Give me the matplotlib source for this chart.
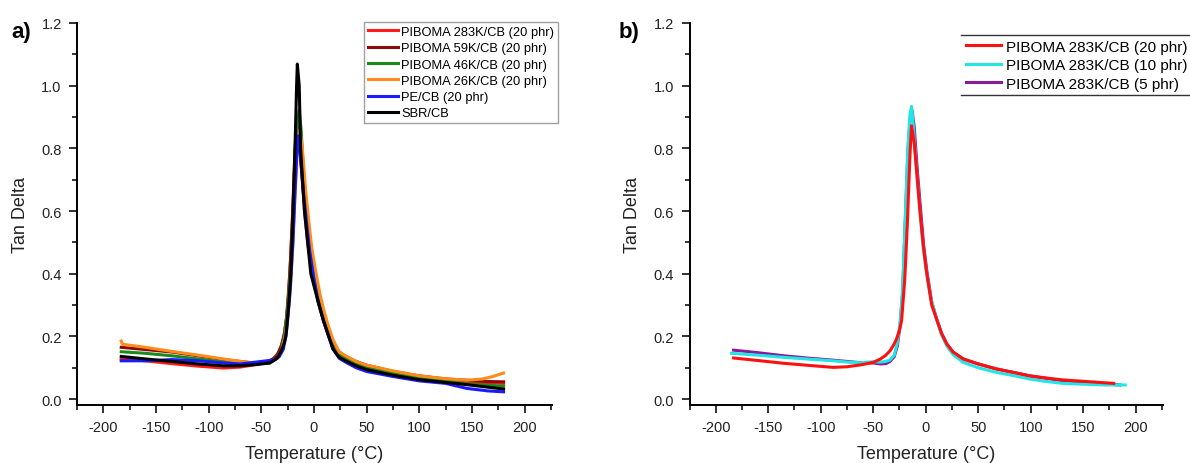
import matplotlib
matplotlib.use("Agg")
import matplotlib.pyplot as plt
from matplotlib.lines import Line2D
from matplotlib.ticker import MultipleLocator, FormatStrFormatter

plt.rcParams['font.family'] = ['Liberation Sans', 'DejaVu Sans']
plt.rcParams['axes.unicode_minus'] = False

# ---- panel a data (temperature in degC, tan delta) ----
t_283k = [-183, -160, -135, -110, -86, -70, -55, -45, -38, -33, -29, -26, -23, -20, -18, -16, -14, -12, -9, -6, -3, 0,
          4, 9, 14, 18, 24, 30, 40, 50, 75, 100, 125, 145, 165, 180]
v_283k = [0.128, 0.122, 0.113, 0.105, 0.099, 0.102, 0.11, 0.118, 0.13, 0.15, 0.19, 0.26, 0.4, 0.6, 0.78, 0.87, 0.84,
          0.74, 0.6, 0.5, 0.43, 0.37, 0.31, 0.25, 0.2, 0.165, 0.14, 0.13, 0.115, 0.104, 0.086, 0.072, 0.062, 0.056,
          0.052, 0.05]

t_59k = [-183, -160, -135, -110, -86, -70, -55, -42, -35, -31, -28, -26, -24, -22, -20, -18, -16.5, -15, -13, -10, -7,
         -3, 0, 4, 9, 14, 18, 24, 30, 40, 50, 75, 100, 125, 145, 165, 180]
v_59k = [0.165, 0.158, 0.15, 0.138, 0.126, 0.12, 0.114, 0.118, 0.14, 0.17, 0.21, 0.26, 0.34, 0.46, 0.62, 0.8, 0.881,
         0.86, 0.78, 0.66, 0.56, 0.45, 0.39, 0.32, 0.26, 0.21, 0.175, 0.15, 0.136, 0.12, 0.108, 0.088, 0.074, 0.064,
         0.06, 0.056, 0.055]

t_46k = [-183, -160, -135, -110, -86, -70, -55, -42, -35, -31, -28, -25, -22, -20, -18, -16, -14, -12, -10, -7, -4, 0,
         4, 9, 14, 18, 24, 30, 40, 50, 75, 100, 125, 145, 165, 180]
v_46k = [0.151, 0.146, 0.138, 0.128, 0.118, 0.113, 0.112, 0.115, 0.13, 0.155, 0.2, 0.29, 0.42, 0.56, 0.72, 0.87, 0.923,
         0.85, 0.72, 0.6, 0.5, 0.4, 0.32, 0.26, 0.205, 0.165, 0.14, 0.127, 0.11, 0.098, 0.082, 0.069, 0.058, 0.048,
         0.044, 0.041]

t_26k = [-183, -182, -160, -135, -110, -86, -70, -55, -42, -35, -31, -28, -25, -22, -20, -18, -16, -13.5, -11, -8, -5,
         -2, 2, 6, 10, 14, 18, 24, 30, 40, 50, 75, 100, 125, 145, 160, 170, 180]
v_26k = [0.185, 0.175, 0.165, 0.152, 0.14, 0.128, 0.12, 0.115, 0.117, 0.13, 0.155, 0.19, 0.25, 0.37, 0.5, 0.65, 0.8,
         0.86, 0.8, 0.67, 0.57, 0.48, 0.4, 0.33, 0.275, 0.23, 0.19, 0.15, 0.138, 0.12, 0.108, 0.09, 0.074, 0.065, 0.06,
         0.064, 0.072, 0.083]

t_pe = [-183, -160, -135, -110, -86, -70, -55, -45, -38, -33, -29, -26, -23, -20, -18, -16, -15, -13, -10, -7, -4, 0,
        4, 9, 14, 18, 24, 30, 40, 50, 75, 100, 125, 145, 165, 180]
v_pe = [0.122, 0.122, 0.126, 0.122, 0.115, 0.112, 0.118, 0.122, 0.125, 0.135, 0.16, 0.22, 0.33, 0.5, 0.66, 0.8, 0.84,
        0.78, 0.66, 0.56, 0.47, 0.38, 0.31, 0.25, 0.2, 0.16, 0.13, 0.118, 0.1, 0.088, 0.072, 0.058, 0.05, 0.034,
        0.026, 0.023]

t_sbr = [-183, -160, -135, -110, -86, -70, -55, -42, -35, -31, -28, -26.6, -24, -22, -20, -18, -16.5, -15.8, -14,
         -12.7, -9, -3, 4, 9, 14, 18, 24, 30, 40, 50, 75, 100, 125, 145, 165, 180]
v_sbr = [0.136, 0.128, 0.12, 0.112, 0.106, 0.106, 0.11, 0.115, 0.13, 0.155, 0.18, 0.2, 0.3, 0.4, 0.58, 0.8, 1.0,
         1.069, 1.0, 0.8, 0.6, 0.4, 0.31, 0.25, 0.2, 0.16, 0.133, 0.122, 0.106, 0.094, 0.076, 0.062, 0.053, 0.046,
         0.038, 0.032]

# ---- panel b data ----
t_20phr = [-183, -160, -135, -110, -88, -75, -62, -50, -43, -38, -34, -31, -28, -25, -23, -20, -17.5, -15, -13.5, -11,
           -8, -5.5, -2, 1, 5.7, 10.4, 15, 20, 26, 35.7, 50, 67.4, 85, 99, 115, 130.7, 152.9, 170, 179]
v_20phr = [0.131, 0.123, 0.114, 0.107, 0.101, 0.103, 0.109, 0.117, 0.128, 0.14, 0.154, 0.17, 0.19, 0.22, 0.25, 0.38,
           0.56, 0.78, 0.872, 0.82, 0.7, 0.6, 0.48, 0.4, 0.3, 0.255, 0.21, 0.176, 0.15, 0.128, 0.112, 0.096, 0.084,
           0.074, 0.067, 0.061, 0.056, 0.052, 0.05]

t_10phr = [-185, -160, -135, -110, -88, -75, -62, -50, -43, -38, -34, -30, -27, -24.4, -22, -19.7, -17, -15, -13.5,
           -12, -9, -6, -3, 0, 5, 10, 15, 20, 26, 35.7, 50, 67.4, 85, 99, 115, 130.7, 152.9, 170, 190]
v_10phr = [0.146, 0.14, 0.133, 0.127, 0.122, 0.118, 0.116, 0.119, 0.118, 0.12, 0.125, 0.14, 0.18, 0.245, 0.35, 0.56,
           0.8, 0.91, 0.934, 0.88, 0.74, 0.62, 0.5, 0.42, 0.32, 0.26, 0.205, 0.17, 0.142, 0.117, 0.1, 0.085, 0.074,
           0.064, 0.056, 0.05, 0.047, 0.045, 0.045]

t_5phr = [-183, -160, -135, -110, -88, -75, -62, -50, -43, -38, -34, -30, -27, -24.4, -22, -19.7, -17, -15, -13, -11,
          -8, -5, -2, 1, 5.7, 10.4, 15, 20, 26, 35.7, 50, 67.4, 85, 99, 115, 130.7, 152.9, 170, 185]
v_5phr = [0.156, 0.148, 0.138, 0.13, 0.124, 0.12, 0.116, 0.115, 0.112, 0.113, 0.12, 0.135, 0.17, 0.235, 0.34, 0.55,
          0.79, 0.89, 0.92, 0.87, 0.73, 0.61, 0.49, 0.41, 0.31, 0.255, 0.21, 0.176, 0.15, 0.128, 0.112, 0.096, 0.084,
          0.074, 0.066, 0.058, 0.052, 0.048, 0.045]

series_a = [
    (t_283k, v_283k, 'PIBOMA 283K/CB (20 phr)', '#ff1a1a'),
    (t_59k, v_59k, 'PIBOMA 59K/CB (20 phr)', '#8b0a0a'),
    (t_46k, v_46k, 'PIBOMA 46K/CB (20 phr)', '#1a8a1a'),
    (t_26k, v_26k, 'PIBOMA 26K/CB (20 phr)', '#ff8c1a'),
    (t_pe, v_pe, 'PE/CB (20 phr)', '#1a1aff'),
    (t_sbr, v_sbr, 'SBR/CB', '#000000'),
]
series_b = [
    (t_5phr, v_5phr, 'PIBOMA 283K/CB (5 phr)', '#8a1a9a'),
    (t_10phr, v_10phr, 'PIBOMA 283K/CB (10 phr)', '#22e6e6'),
    (t_20phr, v_20phr, 'PIBOMA 283K/CB (20 phr)', '#ff1010'),
]

W, H = 1190, 464
fig = plt.figure(figsize=(W / 100, H / 100), dpi=100)
ax_a = fig.add_axes([77 / W, 1 - 406 / H, (552 - 77) / W, (406 - 24) / H])
ax_b = fig.add_axes([689.5 / W, 1 - 406 / H, (1163 - 689.5) / W, (406 - 24) / H])


def style_axes(ax):
    ax.set_xlim(-225, 226)
    ax.set_ylim(-0.019, 1.2)
    ax.xaxis.set_major_locator(MultipleLocator(50))
    ax.xaxis.set_minor_locator(MultipleLocator(25))
    ax.yaxis.set_major_locator(MultipleLocator(0.2))
    ax.yaxis.set_minor_locator(MultipleLocator(0.1))
    ax.yaxis.set_major_formatter(FormatStrFormatter('%.1f'))
    for s in ['top', 'right']:
        ax.spines[s].set_visible(False)
    for s in ['left', 'bottom']:
        ax.spines[s].set_linewidth(1.4)
    ax.tick_params(which='major', direction='out', length=6, width=1.3, pad=5, labelsize=10.5, colors='#222222')
    ax.tick_params(which='minor', direction='out', length=3.5, width=1.1)
    ax.set_xlabel('Temperature (°C)', fontsize=13, color='#222222', labelpad=8)
    ax.set_ylabel('Tan Delta', fontsize=13, color='#222222', labelpad=9)


for t, v, name, c in series_a:
    ax_a.plot(t, v, color=c, lw=2.2, label=name)
style_axes(ax_a)
ax_a.legend(loc='upper left', bbox_to_anchor=(364 / W, 1 - 23 / H), bbox_transform=fig.transFigure,
            fontsize=9.3, frameon=True, fancybox=False, edgecolor='#888888', borderpad=0.3,
            handlelength=2.3, handletextpad=0.3, labelspacing=0.33, borderaxespad=0)

lines_b = []
for t, v, name, c in series_b:
    ln, = ax_b.plot(t, v, color=c, lw=2.2, label=name)
    lines_b.append(ln)
style_axes(ax_b)
leg_b = ax_b.legend(handles=lines_b[::-1], loc='upper left', bbox_to_anchor=(961 / W, 1 - 36 / H),
                    bbox_transform=fig.transFigure, fontsize=11, frameon=False, borderpad=0.3,
                    handlelength=2.35, handletextpad=0.28, labelspacing=0.3, borderaxespad=0)

# legend b only has a top and bottom rule
fig.canvas.draw()
bb = leg_b.get_window_extent().transformed(fig.transFigure.inverted())
for yy in [bb.y0, bb.y1]:
    fig.add_artist(Line2D([bb.x0, 1.0], [yy, yy], transform=fig.transFigure, color='#333333', lw=1.0))

fig.text(11 / W, 1 - 22 / H, 'a)', fontsize=16, fontweight='bold', va='top', ha='left')
fig.text(619 / W, 1 - 22 / H, 'b)', fontsize=16, fontweight='bold', va='top', ha='left')

fig.savefig('out.png', dpi=100)
